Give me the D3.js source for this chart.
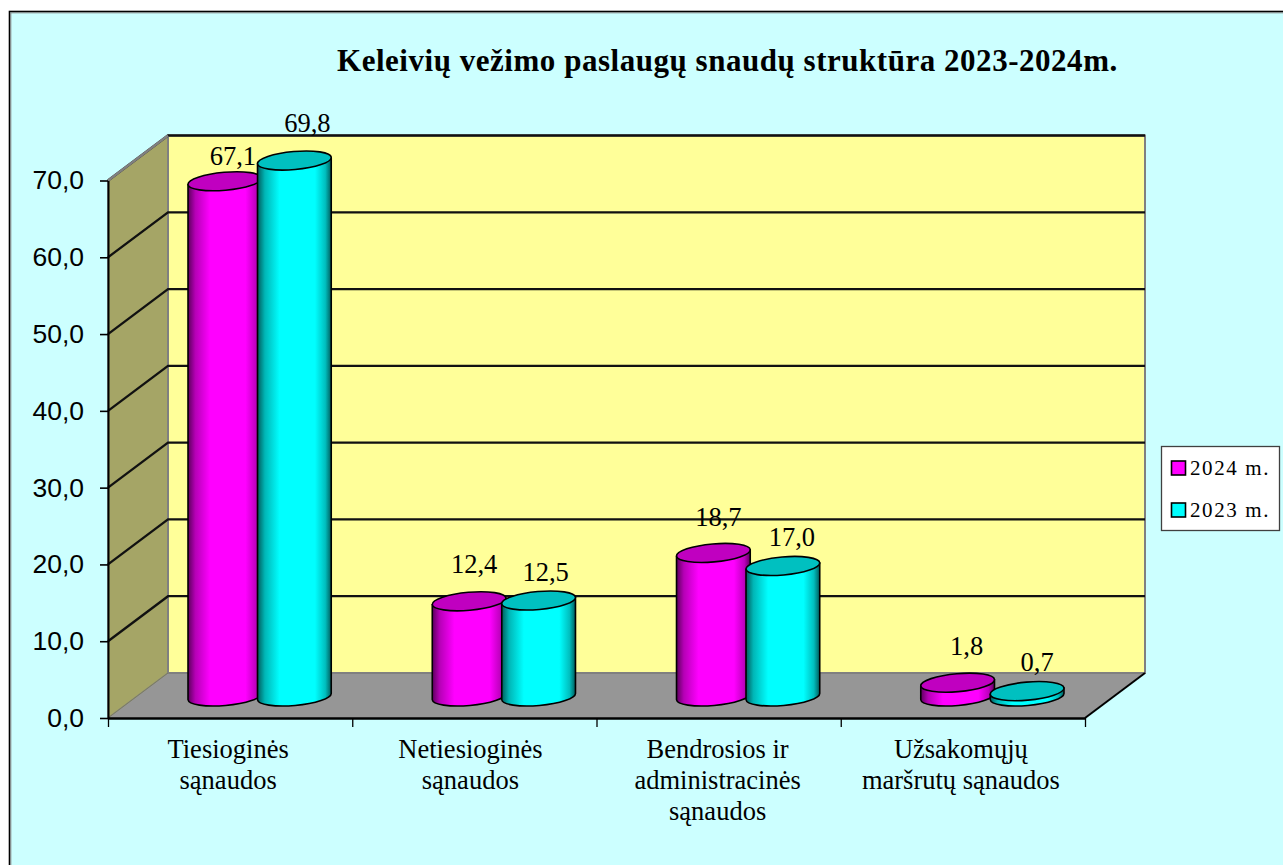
<!DOCTYPE html>
<html><head><meta charset="utf-8">
<script src="https://cdn.jsdelivr.net/npm/d3@7"></script>
<style>html,body{margin:0;padding:0;background:#fff;overflow:hidden}svg{display:block}</style>
</head><body><svg id="c" width="1283" height="865"></svg>
<script>
const title = "Keleivių vežimo paslaugų snaudų struktūra 2023-2024m.";
const categories = [["Tiesioginės","sąnaudos"],["Netiesioginės","sąnaudos"],["Bendrosios ir","administracinės","sąnaudos"],["Užsakomųjų","maršrutų sąnaudos"]];
const seriesNames = ["2024 m.","2023 m."];
const values2024 = [67.1,12.4,18.7,1.8];
const values2023 = [69.8,12.5,17.0,0.7];
const valueLabels2024 = ["67,1","12,4","18,7","1,8"];
const valueLabels2023 = ["69,8","12,5","17,0","0,7"];
const yTicks = [0,10,20,30,40,50,60,70];

// layout (not data)
const labelNudge2024 = [[8,-16],[5,-28],[5,-27],[9,-28]];
const labelNudge2023 = [[13,-29],[7,-20],[9,-20],[10,-20]];
const categoryNudge = [-2,-4,-1,-2];
const depth = {x:60,y:-45};
const svg = d3.select("#c");
const sans = "'Liberation Sans',Arial,sans-serif", serif = "'Liberation Serif','Times New Roman',serif";
const x = d3.scaleBand().domain(d3.range(categories.length)).range([108,1085]);
const y = d3.scaleLinear().domain([0,70]).range([718,180.5]);
const inner = d3.scaleBand().domain([0,1]).range([-69.5,69.5]);
const series = [
 {name:seriesNames[0],vals:values2024,labels:valueLabels2024,nudge:labelNudge2024,base:"#ff00ff",edge:"#5c005c",top:"#c000c0",id:"gm"},
 {name:seriesNames[1],vals:values2023,labels:valueLabels2023,nudge:labelNudge2023,base:"#00ffff",edge:"#005c5c",top:"#00c0c0",id:"gc"}
];
const defs = svg.append("defs");
series.forEach(s=>{
 const g = defs.append("linearGradient").attr("id",s.id).attr("x1",0).attr("x2",1).attr("y1",0).attr("y2",0);
 [[0,s.edge],[.1,d3.interpolateRgb(s.edge,s.base)(.55)],[.3,s.base],[.78,s.base],[.92,d3.interpolateRgb(s.edge,s.base)(.6)],[1,s.edge]]
  .forEach(([o,c])=>g.append("stop").attr("offset",o).attr("stop-color",c));
});
// page panel
svg.append("rect").attr("x",9.5).attr("y",11.5).attr("width",1300).attr("height",900).attr("fill","#ccffff").attr("stroke","#000").attr("stroke-width",1.6);
svg.append("path").attr("d","M10.8,900V12.8H1300").attr("fill","none").attr("stroke","#808080").attr("stroke-width",1);
svg.append("text").attr("x",337).attr("y",71).attr("font-family",serif).attr("font-weight","bold").attr("font-size",31).attr("letter-spacing",0.53).attr("fill","#000").text(title);

const [xL,xR]=x.range(), y0=y(0), yT=y(70);
// walls
svg.append("path").attr("d",`M${xL},${y0}L${xL+depth.x},${y0+depth.y}V${yT+depth.y}L${xL},${yT}Z`).attr("fill","#a5a566").attr("stroke","#808080").attr("stroke-width",1.5);
svg.append("path").attr("d",`M${xL},${y0}L${xL+depth.x},${y0+depth.y}H${xR+depth.x}L${xR},${y0}Z`).attr("fill","#969696");
svg.append("rect").attr("x",xL+depth.x).attr("y",yT+depth.y).attr("width",xR-xL).attr("height",y0-yT).attr("fill","#ffff99").attr("stroke","#808080").attr("stroke-width",2);
// gridlines
yTicks.slice(1).forEach(t=>{
 svg.append("path").attr("d",`M${xL},${y(t)}L${xL+depth.x},${y(t)+depth.y}H${xR+depth.x}`).attr("fill","none").attr("stroke","#111").attr("stroke-width",2.3);
});
svg.append("path").attr("d",`M${xL},${y(70)}L${xL+depth.x},${y(70)+depth.y}`).attr("stroke","#808080").attr("stroke-width",2.5);
svg.append("path").attr("d",`M${xL},${y0}L${xL+depth.x},${y0+depth.y}`).attr("stroke","#7c7c60").attr("stroke-width",1);
svg.append("path").attr("d",`M${xR},${y0}L${xR+depth.x},${y0+depth.y}`).attr("stroke","#000").attr("stroke-width",2);

// axes
const yAxis = d3.axisLeft(y).tickValues(yTicks).tickSize(8).tickSizeOuter(0).tickPadding(16).tickFormat(d=>d3.format(".1f")(d).replace(".",","));
const gy = svg.append("g").attr("transform",`translate(${xL},0)`).call(yAxis);
gy.selectAll("text").attr("font-family",sans).attr("font-size",26.5).attr("fill","#000").attr("dy","0.32em");
gy.selectAll("line").attr("stroke","#000").attr("stroke-width",1.6);
gy.select(".domain").attr("stroke","#000").attr("stroke-width",2);
const xEdge = d3.scaleLinear().domain([0,categories.length]).range(x.range());
const gx = svg.append("g").attr("transform",`translate(0,${y0})`).call(d3.axisBottom(xEdge).tickValues(d3.range(categories.length+1)).tickSize(9).tickSizeOuter(0).tickFormat(""));
gx.selectAll("line").attr("stroke","#000").attr("stroke-width",1.3);
gx.select(".domain").attr("stroke","#000").attr("stroke-width",2.4);

// category labels
categories.forEach((lines,i)=>{
 const t = svg.append("text").attr("text-anchor","middle").attr("font-family",serif).attr("font-size",26.5).attr("fill","#000");
 lines.forEach((l,k)=>t.append("tspan").attr("x",x(i)+x.bandwidth()/2+categoryNudge[i]).attr("y",y0+40+k*31).text(l));
});

// cylinders
const rx=37, ry=9, tilt=-5, rad=tilt*Math.PI/180;
const ex=rx*Math.cos(rad), ey=rx*Math.sin(rad);
const floorShift={x:depth.x/2-0.5,y:depth.y/2+1};
categories.forEach((_,i)=>{
 series.forEach((s,k)=>{
  const cx=x(i)+x.bandwidth()/2+floorShift.x+inner(k)+inner.bandwidth()/2;
  const by=y(0)+floorShift.y, ty=y(s.vals[i])+floorShift.y;
  const g=svg.append("g");
  g.append("path").attr("d",`M${cx-ex},${ty-ey}L${cx-ex},${by-ey}A${rx},${ry},${tilt},0,0,${cx+ex},${by+ey}L${cx+ex},${ty+ey}Z`)
   .attr("fill",`url(#${s.id})`).attr("stroke","#000").attr("stroke-width",1.6).attr("stroke-linejoin","round");
  g.append("ellipse").attr("rx",rx).attr("ry",ry).attr("transform",`translate(${cx},${ty}) rotate(${tilt})`)
   .attr("fill",s.top).attr("stroke","#000").attr("stroke-width",1.6);
  svg.append("text").attr("x",cx+s.nudge[i][0]).attr("y",ty+s.nudge[i][1]).attr("text-anchor","middle")
   .attr("font-family",serif).attr("font-size",26.5).attr("fill","#000").text(s.labels[i]);
 });
});
svg.selectAll("text").raise();

// legend
const lg=svg.append("g");
lg.append("rect").attr("x",1161.5).attr("y",446.5).attr("width",118).attr("height",84).attr("fill","#fff").attr("stroke","#404040").attr("stroke-width",1.3);
const ly=d3.scalePoint().domain(seriesNames).range([468,510]);
series.forEach(s=>{
 lg.append("rect").attr("x",1171.5).attr("y",ly(s.name)-7).attr("width",14).attr("height",14).attr("fill",s.base).attr("stroke","#000").attr("stroke-width",1.6);
 lg.append("text").attr("x",1190).attr("y",ly(s.name)+7).attr("font-family",serif).attr("font-size",21).attr("letter-spacing",1.6).attr("fill","#000").text(s.name);
});
</script></body></html>
